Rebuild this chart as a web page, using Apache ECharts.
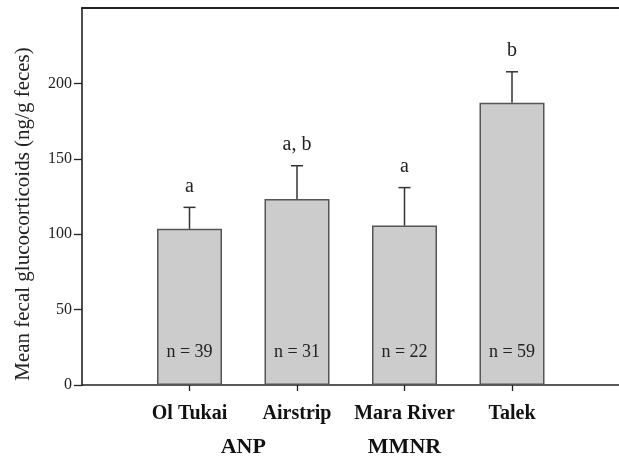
<!DOCTYPE html>
<html><head><meta charset="utf-8">
<script src="https://cdn.jsdelivr.net/npm/echarts@6/dist/echarts.min.js"></script>
<style>html,body{margin:0;padding:0;background:#fff}#c{width:619px;height:457px}</style>
</head><body><div id="c"></div>
<script>
const categories = ['', 'Ol Tukai', 'Airstrip', 'Mara River', 'Talek', ''];
const means = [null, 103.6, 123.4, 105.7, 187.2, null];
const errTops = [null, 117.8, 145.4, 130.9, 207.7, null];
const letters = ['', 'a', 'a, b', 'a', 'b', ''];
const sampleSizes = ['', 'n = 39', 'n = 31', 'n = 22', 'n = 59', ''];
const yTicks = [0, 50, 100, 150, 200];
const groupNames = ['ANP', 'MMNR'];
const groupMembers = [['Ol Tukai', 'Airstrip'], ['Mara River']];
const yTitle = 'Mean fecal glucocorticoids (ng/g feces)';

const FONT = '"Liberation Serif", "Times New Roman", serif';
const INK = '#222';

const errData = [];
categories.forEach((c, i) => {
  if (means[i] != null) errData.push([i, means[i], errTops[i], letters[i]]);
});

const chart = echarts.init(document.getElementById('c'), null, {renderer: 'canvas'});
chart.setOption({
  animation: false,
  backgroundColor: '#fff',
  grid: {left: 82, top: 8, width: 537.5, height: 377, containLabel: false, outerBoundsMode: 'none'},
  xAxis: [{
    type: 'category', data: categories, boundaryGap: false,
    axisLine: {lineStyle: {color: INK, width: 1.6}},
    axisTick: {length: 6, interval: (i, v) => v !== '', lineStyle: {color: INK, width: 1.3}},
    axisLabel: {interval: 0, hideOverlap: false, margin: 19, fontFamily: FONT, fontSize: 20, fontWeight: 'bold', color: '#111'},
    splitLine: {show: false}
  }, {
    type: 'category', data: categories, boundaryGap: false, position: 'top',
    axisLine: {show: true, lineStyle: {color: INK, width: 1.8}},
    axisTick: {show: false}, axisLabel: {show: false}, splitLine: {show: false}
  }],
  yAxis: {
    type: 'value', min: 0, max: 250, interval: 50,
    axisLine: {show: true, lineStyle: {color: INK, width: 1.6}},
    axisTick: {show: true, length: 8, customValues: yTicks, lineStyle: {color: INK, width: 1.3}},
    axisLabel: {margin: 10, customValues: yTicks, fontFamily: FONT, fontSize: 16, color: INK},
    splitLine: {show: false}
  },
  series: [{
    type: 'bar', data: means, barWidth: 65,
    itemStyle: {color: '#cccccc', borderColor: '#555', borderWidth: 1.5},
    label: {
      show: true, position: 'insideBottom', distance: 24,
      formatter: p => sampleSizes[p.dataIndex],
      fontFamily: FONT, fontSize: 18, color: INK
    }
  }, {
    type: 'custom', data: errData,
    renderItem: (params, api) => {
      const x = api.coord([api.value(0), api.value(1)]);
      const top = api.coord([api.value(0), api.value(2)]);
      const cap = 6;
      const st = {stroke: '#333', lineWidth: 1.5};
      return {type: 'group', children: [
        {type: 'line', shape: {x1: x[0], y1: x[1], x2: top[0], y2: top[1]}, style: st},
        {type: 'line', shape: {x1: top[0] - cap, y1: top[1], x2: top[0] + cap, y2: top[1]}, style: st},
        {type: 'text', x: top[0], y: top[1] - 21,
          style: {text: errData[params.dataIndex][3], fill: INK, font: '20px ' + FONT,
            textAlign: 'center', textVerticalAlign: 'middle'}}
      ]};
    },
    z: 5
  }]
});

const gText = groupNames.map((name, gi) => {
  const xs = groupMembers[gi].map(c => chart.convertToPixel({xAxisIndex: 0}, c));
  const x = xs.reduce((a, b) => a + b, 0) / xs.length;
  return {type: 'text', x: x, y: 447,
    style: {text: name, fill: '#111', font: 'bold 22px ' + FONT, textAlign: 'center', textVerticalAlign: 'middle'}};
});
gText.push({type: 'text', x: 23, y: 214, rotation: Math.PI / 2,
  style: {text: yTitle, fill: INK, font: '21px ' + FONT, textAlign: 'center', textVerticalAlign: 'middle'}});
chart.setOption({graphic: gText});
</script>
</body></html>
